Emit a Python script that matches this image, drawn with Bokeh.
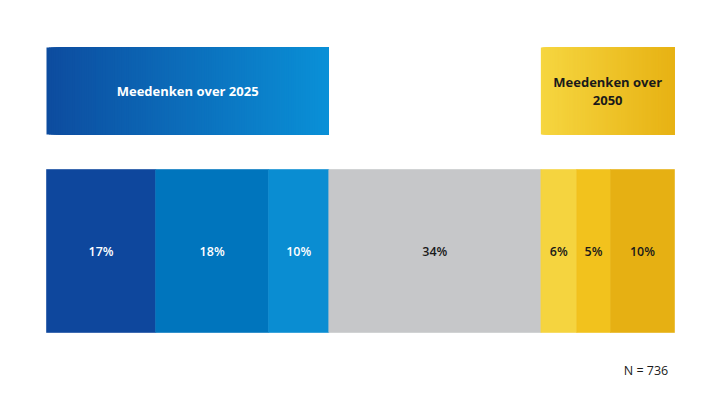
import numpy as np
from bokeh.plotting import figure
from bokeh.models import Range1d, ColumnDataSource
from bokeh.core.properties import value
from bokeh.embed import file_html
from bokeh.resources import INLINE

# ---- data ----
segment_shares = [17.4, 18.0, 9.6, 33.8, 5.7, 5.4, 10.2]
segment_labels = ["17%", "18%", "10%", "34%", "6%", "5%", "10%"]
segment_colors = ["#0E479D", "#0075BD", "#0A8DD2", "#C6C7C9", "#F5D43F", "#F2C21D", "#E6B013"]
label_colors = ["white", "white", "white", "#1a1a1a", "#1a1a1a", "#1a1a1a", "#1a1a1a"]
group_titles = ["Meedenken over 2025", "Meedenken over\n2050"]
group_segments = [(0, 3), (4, 7)]
group_grad = [("#0D4C9F", "#0A90D7"), ("#F6D640", "#E7B214")]
group_text_colors = ["white", "#1a1a1a"]
n_note = "N = 736"

W, H = 704, 389
FONT = "Open Sans"
FONT_MED = "'Open Sans SemiBold', 'Open Sans'"

# pixel mapping: value 0 -> px 46, value 100 -> px 674
PX0, PX1 = 46.0, 674.0
ppu = (PX1 - PX0) / 100.0
p = figure(width=W, height=H, output_backend="svg", toolbar_location=None,
           x_range=Range1d(-PX0 / ppu, (W - PX0) / ppu), y_range=Range1d(H, 0),
           min_border=0, outline_line_color=None)
p.axis.visible = False
p.grid.visible = False
p.background_fill_color = "white"
p.border_fill_color = "white"

cum = np.concatenate([[0], np.cumsum(segment_shares)])
total = cum[-1]
cum = cum * 100.0 / total
left = cum[:-1]
right = cum[1:]

BAR_TOP, BAR_BOT = 169, 332
HDR_TOP, HDR_BOT = 47, 134

src = ColumnDataSource(dict(left=left, right=right, color=segment_colors,
                            label=segment_labels, lc=label_colors,
                            xm=(left + right) / 2))
p.quad(left="left", right="right", top=BAR_TOP, bottom=BAR_BOT,
       fill_color="color", line_color="color", line_width=0.6, source=src)
p.text(x="xm", y=(BAR_TOP + BAR_BOT) / 2, text="label", text_color="lc",
       text_align="center", text_baseline="middle", text_font=value(FONT_MED),
       text_font_size="12.5px", source=src)

def hex2rgb(h):
    h = h.lstrip("#")
    return np.array([int(h[i:i + 2], 16) for i in (0, 2, 4)], dtype=float)

for (a, b), (c0, c1), title, tc in zip(group_segments, group_grad, group_titles, group_text_colors):
    x0, x1 = cum[a], cum[b]
    n = 120
    edges = np.linspace(x0, x1, n + 1)
    r0, r1 = hex2rgb(c0), hex2rgb(c1)
    cols = []
    for t in np.linspace(0, 1, n):
        r = r0 + (r1 - r0) * t
        cols.append("#%02x%02x%02x" % tuple(int(round(v)) for v in r))
    # overlapping strips (each reaches the right edge) avoid seams
    p.quad(left=edges[:-1], right=[x1] * n, top=HDR_TOP, bottom=HDR_BOT,
           fill_color=cols, line_color=None)
    p.text(x=[(x0 + x1) / 2], y=[(HDR_TOP + HDR_BOT) / 2], text=[title],
           text_color=tc, text_align="center", text_baseline="middle",
           text_font=value(FONT), text_font_style="bold", text_font_size="13px",
           text_line_height=1.0)

p.text(x=[cum[-1] - 1.0], y=[370], text=[n_note], text_color="#1a1a1a",
       text_align="right", text_baseline="middle", text_font=value(FONT),
       text_font_size="12.5px")

open("out.html", "w").write(file_html(p, INLINE))
